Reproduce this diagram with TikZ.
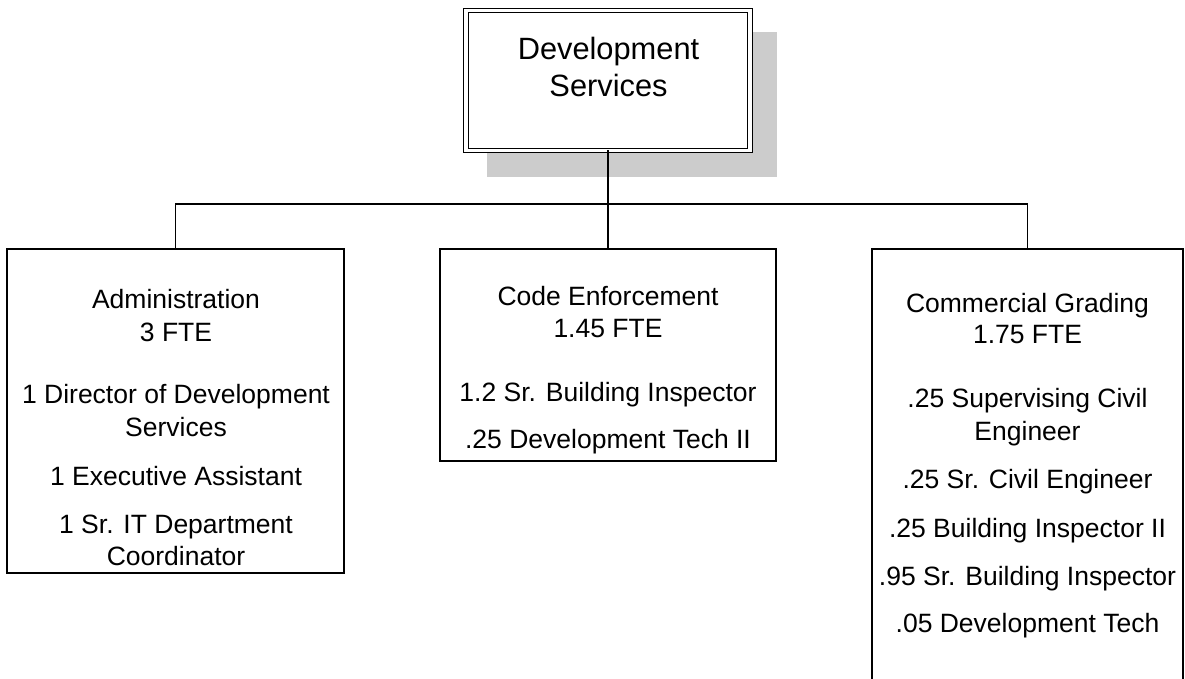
\documentclass[tikz,border=0pt]{standalone}
\usepackage{fontspec}
\setmainfont{Liberation Sans}
\definecolor{shadowgray}{RGB}{204,204,204}
\tikzset{
  unitbox/.style={draw=black, line width=1.8pt, fill=white, inner sep=0pt, outer sep=0pt},
  headbox/.style={draw=black, fill=white, double=white, double distance=3.6pt, line width=0.9pt,
                  inner sep=0pt, outer sep=0pt, minimum width=284pt, minimum height=140pt},
  wire/.style={line width=1.8pt, draw=black},
  rowtext/.style={anchor=base, inner sep=0pt, outer sep=0pt,
                  font=\fontsize{26.5}{32}\selectfont},
  headtext/.style={anchor=base, inner sep=0pt, outer sep=0pt,
                   font=\fontsize{30.8}{37}\selectfont}
}
\begin{document}
\begin{tikzpicture}[x=1pt, y=-1pt]
  \clip (0,0) rectangle (1185,679);
  \useasboundingbox (0,0) rectangle (1185,679);

  % head unit with drop shadow
  \fill[shadowgray] (487,32) rectangle (777,177);
  \node[headbox] (top) at (608,80.5) {};
  \node[headtext] (topA) at (608.5,60) {Development};
  \node[headtext] (topB) at (608.5,97) {Services};

  % divisions
  \node[unitbox, minimum width=337pt, minimum height=324pt] (adm)  at (175.5,411) {};
  \node[unitbox, minimum width=336pt, minimum height=212pt] (code) at (608,355) {};
  \node[unitbox, minimum width=311pt, minimum height=471pt] (com)  at (1027.5,484.5) {};

  % connectors
  \coordinate (bus) at (608,204);
  \draw[wire] (top.south) -- (bus);
  \draw[wire] (bus) -| (adm.north);
  \draw[wire] (bus) -- (code.north);
  \draw[wire] (bus) -| (com.north);

  % Administration
  \node[rowtext] (a1) at (176,308) {Administration};
  \node[rowtext] (a2) at (176,341) {3 FTE};
  \node[rowtext] (a3) at (176,403) {1 Director of Development};
  \node[rowtext] (a4) at (176,436) {Services};
  \node[rowtext] (a5) at (176,485) {1 Executive Assistant};
  \node[rowtext] (a6) at (176,533) {1 Sr. IT Department};
  \node[rowtext] (a7) at (176,565) {Coordinator};

  % Code Enforcement
  \node[rowtext] (c1) at (608,305) {Code Enforcement};
  \node[rowtext] (c2) at (608,337) {1.45 FTE};
  \node[rowtext] (c3) at (608,401) {1.2 Sr. Building Inspector};
  \node[rowtext] (c4) at (608,448) {.25 Development Tech II};

  % Commercial Grading
  \node[rowtext] (g1) at (1027.5,312) {Commercial Grading};
  \node[rowtext] (g2) at (1027.5,343) {1.75 FTE};
  \node[rowtext] (g3) at (1027.5,407) {.25 Supervising Civil};
  \node[rowtext] (g4) at (1027.5,440) {Engineer};
  \node[rowtext] (g5) at (1027.5,488) {.25 Sr. Civil Engineer};
  \node[rowtext] (g6) at (1027.5,537) {.25 Building Inspector II};
  \node[rowtext] (g7) at (1027.5,585) {.95 Sr. Building Inspector};
  \node[rowtext] (g8) at (1027.5,632) {.05 Development Tech};
\end{tikzpicture}
\end{document}
